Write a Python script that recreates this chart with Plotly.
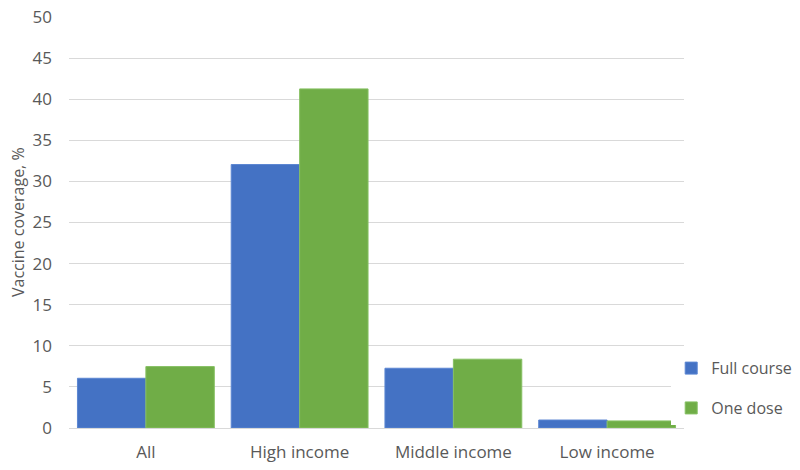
import plotly.graph_objects as go

categories = ["All", "High income", "Middle income", "Low income"]
full_course = [6.05, 32.05, 7.27, 0.97]
one_dose = [7.47, 41.25, 8.37, 0.86]

BLUE = "#4472C4"
GREEN = "#70AD47"
TEXT = "#595959"
FONT = "Open Sans, Noto Sans, sans-serif"

fig = go.Figure()

fig.add_trace(go.Bar(
    x=categories, y=full_course, name="Full course",
    marker=dict(color=BLUE, line=dict(color="#5b86d2", width=1)),
    legendgroup="a"
))
fig.add_trace(go.Bar(
    x=categories, y=one_dose, name="One dose",
    marker=dict(color=GREEN, line=dict(color="#86c063", width=1)),
    legendgroup="b"
))

fig.update_layout(
    width=800, height=470,
    margin=dict(l=69, r=116, t=16, b=42, autoexpand=False),
    paper_bgcolor="white", plot_bgcolor="white",
    barmode="group", bargap=0.11, bargroupgap=0,
    font=dict(family=FONT, color=TEXT, size=16),
    legend=dict(
        xref="container", yref="container",
        x=0.839, xanchor="left", y=0.174, yanchor="middle",
        font=dict(size=16, color=TEXT),
        tracegroupgap=16, traceorder="grouped",
        itemwidth=30,
    ),
    xaxis=dict(
        showline=False, ticks="", tickfont=dict(size=17, color=TEXT),
        showgrid=False, automargin=False, ticklabelstandoff=12,
    ),
    yaxis=dict(
        range=[0, 50.12], tickvals=[0, 5, 10, 15, 20, 25, 30, 35, 40, 45, 50],
        showgrid=True, gridcolor="#d9d9d9", gridwidth=1,
        zeroline=True, zerolinecolor="#d9d9d9", zerolinewidth=1,
        tickfont=dict(size=17, color=TEXT), ticks="", ticklen=0,
        ticklabelstandoff=16, automargin=False,
    ),
)

# y axis title as a rotated annotation so it sits where the reference has it
fig.add_annotation(
    text="Vaccine coverage, %", textangle=-90,
    xref="paper", yref="paper", x=0, y=0.5, xanchor="center", yanchor="middle",
    xshift=-51, showarrow=False, font=dict(size=16, color=TEXT),
)

# drop the default 8px page margin so the figure sits at the window's corner
fig.write_html(
    "out.html",
    config={"displayModeBar": False},
    post_script="document.body.style.margin='0';",
)
